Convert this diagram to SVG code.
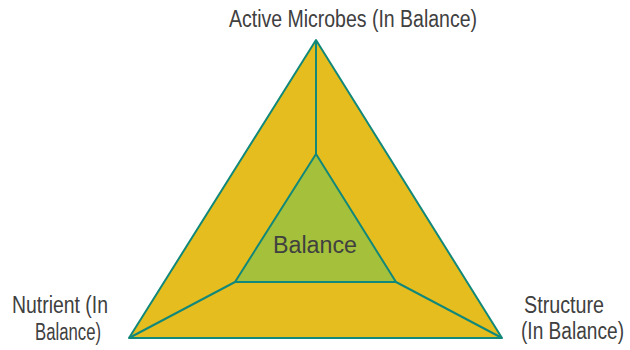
<svg xmlns="http://www.w3.org/2000/svg" width="630" height="350" viewBox="0 0 630 350">
<style>
.lbl{font-family:"Liberation Sans",Arial,sans-serif;font-size:23px;fill:#404040}
.edge{stroke:#12887a;stroke-width:2;fill:none;stroke-linejoin:round}
</style>
<rect width="630" height="350" fill="#ffffff"/>
<g id="outer">
<polygon points="316,40 129,338 502,338" class="edge" style="fill:#e6bd1f"/>
</g>
<g id="connectors">
<line class="edge" x1="316" y1="40" x2="316" y2="154"/>
<line class="edge" x1="129" y1="338" x2="235" y2="282"/>
<line class="edge" x1="502" y1="338" x2="396" y2="282"/>
</g>
<g id="balance">
<polygon points="316,154 235,282 396,282" class="edge" style="fill:#a5c13b"/>
<text class="lbl" x="273" y="253" textLength="84" lengthAdjust="spacingAndGlyphs">Balance</text>
</g>
<g id="active-microbes">
<text class="lbl" x="229" y="27" textLength="248" lengthAdjust="spacingAndGlyphs">Active Microbes (In Balance)</text>
</g>
<g id="nutrient">
<text class="lbl" x="12" y="313" textLength="96" lengthAdjust="spacingAndGlyphs">Nutrient (In</text>
<text class="lbl" x="35" y="340" textLength="66" lengthAdjust="spacingAndGlyphs">Balance)</text>
</g>
<g id="structure">
<text class="lbl" x="524" y="313" textLength="80" lengthAdjust="spacingAndGlyphs">Structure</text>
<text class="lbl" x="521" y="339" textLength="103" lengthAdjust="spacingAndGlyphs">(In Balance)</text>
</g>
</svg>
